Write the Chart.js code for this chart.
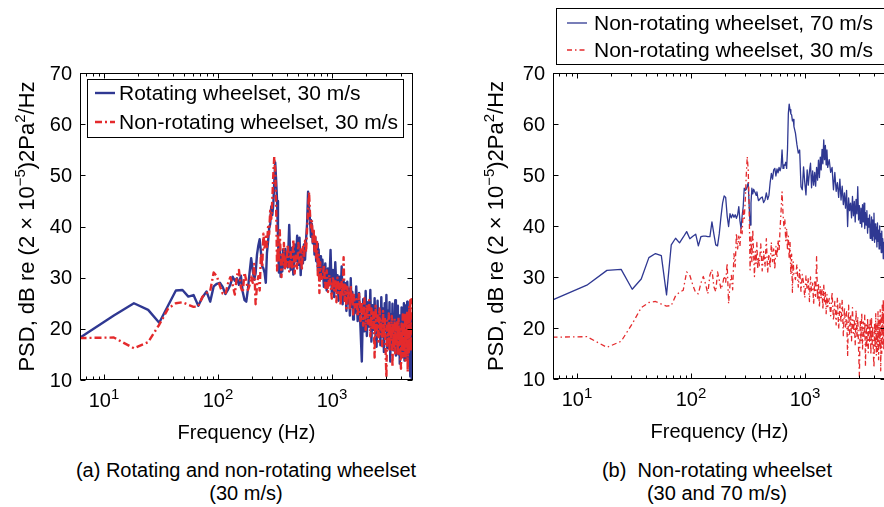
<!DOCTYPE html>
<html>
<head>
<meta charset="utf-8">
<title>Wheelset PSD</title>
<script src="https://cdn.jsdelivr.net/npm/chart.js@4.4.1/dist/chart.umd.min.js"></script>
<style>
  html, body { margin: 0; padding: 0; background: #fff; overflow: hidden; }
  body { width: 884px; height: 507px; position: relative; font-family: "Liberation Sans", Arial, Helvetica, sans-serif; }
  canvas { position: absolute; top: 0; }
  #chartA { left: 0; }
  #chartB { left: 440px; }
  .caption { position: absolute; width: 440px; text-align: center; font-size: 20px; line-height: 23px; color: #000; }
</style>
</head>
<body>
<canvas id="chartA" width="440" height="450"></canvas>
<canvas id="chartB" width="450" height="450"></canvas>
<div class="caption" style="left:26px; top:459px">(a) Rotating and non-rotating wheelset<br>(30 m/s)</div>
<div class="caption" style="left:497px; top:459px">(b)&nbsp; Non-rotating wheelset<br>(30 and 70 m/s)</div>
<script>
// ── Data ────────────────────────────────────────────────────────────────
// Spectrum bins (Hz); the 6.1 Hz bins are thinned out above 400 Hz
const freqHz = [
  6.1, 12.2, 18.3, 24.4, 30.5, 36.6, 42.7, 48.8, 54.9, 61.0,
  67.1, 73.2, 79.3, 85.4, 91.6, 97.7, 103.8, 109.9, 116.0, 122.1,
  128.2, 134.3, 140.4, 146.5, 152.6, 158.7, 164.8, 170.9, 177.0, 183.1,
  189.2, 195.3, 201.4, 207.5, 213.6, 219.7, 225.8, 231.9, 238.0, 244.1,
  250.2, 256.3, 262.5, 268.6, 274.7, 280.8, 286.9, 293.0, 299.1, 305.2,
  311.3, 317.4, 323.5, 329.6, 335.7, 341.8, 347.9, 354.0, 360.1, 366.2,
  372.3, 378.4, 384.5, 390.6, 396.7,
  408.9, 421.1, 433.3, 445.5, 457.8, 470.0, 482.2, 494.4, 506.6, 518.8,
  531.0, 543.2, 555.4, 567.6, 579.8, 592.0, 604.2, 616.5, 628.7, 640.9,
  653.1, 665.3, 677.5, 689.7, 701.9, 714.1, 726.3, 738.5, 750.7, 762.9,
  775.1, 787.4, 799.6,
  824.0, 848.4, 872.8, 897.2, 921.6, 946.0, 970.5, 994.9, 1019, 1044,
  1068, 1093, 1117, 1141, 1166, 1190, 1215, 1239, 1263, 1288,
  1312, 1337, 1361, 1385, 1410, 1434, 1459, 1483, 1508, 1532,
  1556, 1581,
  1630, 1678, 1727, 1776, 1825, 1874, 1923, 1972, 2021, 2069,
  2118, 2167, 2216, 2265, 2314, 2363, 2411, 2460, 2509, 2558,
  2607, 2656, 2705, 2754, 2802, 2851, 2900, 2949, 2998, 3047,
  3096, 3145, 3193, 3242, 3291, 3340, 3389, 3438, 3487, 3536,
  3584, 3633, 3682, 3731, 3780, 3829, 3878, 3927, 3975, 4024,
  4073, 4122, 4171, 4220, 4269, 4318, 4366, 4415, 4464, 4513,
  4562, 4611, 4660, 4709, 4757, 4806, 4855, 4904, 4953, 5002
];

// Rotating wheelset, 30 m/s (dB)
const psdRotating30 = [
  18.2, 22.6, 25.0, 23.7, 21.2, 24.6, 27.5, 27.6, 26.3, 26.6,
  24.5, 26.2, 27.3, 25.3, 28.3, 28.8, 29.0, 28.2, 26.8, 27.6,
  28.6, 30.2, 29.4, 29.9, 28.6, 30.4, 27.2, 25.6, 25.3, 27.8,
  31.0, 33.8, 31.5, 29.6, 30.8, 34.5, 36.3, 37.5, 35.0, 32.2,
  31.8, 30.9, 29.0, 34.8, 37.0, 39.6, 40.5, 43.9, 42.2, 44.2,
  48.5, 52.5, 49.0, 45.0, 38.0, 31.0, 36.5, 30.2, 34.0, 31.2,
  35.5, 33.0, 32.0, 35.6, 33.5,
  32.0, 40.3, 31.5, 35.8, 30.6, 36.5, 33.2, 38.2, 32.5, 37.8,
  30.5, 35.2, 32.8, 36.5, 33.5, 37.5, 40.5, 46.8, 43.5, 41.3,
  38.0, 40.5, 36.7, 39.0, 34.5, 37.8, 33.2, 36.6, 31.5, 35.5,
  30.8, 34.2, 29.8,
  33.5, 28.2, 32.8, 27.5, 31.8, 28.6, 35.4, 27.0, 31.5, 26.2,
  33.0, 27.8, 30.5, 25.5, 30.2, 26.8, 32.2, 24.8, 29.5, 25.8,
  28.9, 23.5, 29.2, 25.0, 27.8, 22.6, 29.9, 24.3, 27.2, 21.8,
  26.5, 23.0,
  28.3, 21.5, 27.0, 20.2, 13.6, 25.8, 19.5, 27.4, 18.6, 25.2,
  20.4, 27.6, 17.5, 24.6, 19.8, 26.0, 18.0, 16.5, 25.5, 19.2,
  23.8, 16.8, 26.2, 18.5, 24.0, 15.5, 25.0, 19.6, 26.6, 16.2,
  23.5, 18.8, 25.2, 13.6, 22.8, 17.2, 24.9, 15.8, 22.0, 18.0,
  25.6, 14.8, 21.4, 17.5, 24.5, 15.0, 22.6, 13.2, 21.0, 17.8,
  24.2, 14.5, 22.0, 16.4, 25.0, 13.8, 21.2, 17.0, 24.6, 14.2,
  25.3, 16.0, 22.5, 12.8, 24.0, 15.2, 10.7, 22.4, 14.0, 10.2
];

// Non-rotating wheelset, 30 m/s (dB) - shown in both panels
const psdNonRotating30 = [
  18.2, 18.3, 16.2, 17.4, 20.8, 24.0, 25.0, 25.2, 24.7, 24.3,
  24.4, 26.3, 27.0, 27.4, 31.0, 30.3, 28.4, 26.9, 26.7, 28.8,
  30.1, 28.6, 26.7, 30.4, 31.5, 28.1, 27.1, 31.0, 29.4, 27.6,
  28.5, 30.2, 29.0, 32.7, 24.8, 28.5, 30.3, 27.5, 34.6, 32.0,
  38.6, 35.5, 38.0, 36.0, 39.9, 38.5, 43.1, 41.5, 45.0, 50.0,
  53.6, 51.0, 44.0, 31.4, 37.9, 33.0, 39.3, 34.5, 30.1, 35.0,
  32.6, 36.8, 31.5, 34.0, 32.2,
  36.5, 31.2, 35.0, 32.0, 37.5, 30.8, 34.5, 31.8, 36.8, 33.0,
  35.5, 31.5, 36.0, 33.8, 37.2, 35.0, 39.5, 43.0, 46.7, 42.5,
  39.8, 41.2, 37.0, 39.5, 35.2, 38.0, 33.5, 37.0, 30.5, 34.5,
  27.0, 33.0, 30.5,
  29.5, 32.5, 28.0, 31.4, 27.2, 30.5, 28.8, 25.9, 30.2, 27.5,
  29.8, 25.2, 30.0, 27.0, 28.8, 24.6, 29.4, 26.2, 34.0, 25.5,
  28.5, 24.0, 28.2, 25.8, 27.5, 23.6, 28.6, 24.8, 27.0, 22.8,
  26.6, 24.2,
  25.8, 22.4, 27.0, 21.5, 25.2, 20.6, 26.0, 19.8, 24.8, 21.0,
  25.6, 18.5, 24.0, 20.2, 23.2, 14.4, 24.5, 18.8, 22.6, 17.5,
  24.0, 19.0, 21.8, 16.6, 23.5, 18.2, 22.2, 15.8, 10.5, 21.6,
  17.4, 23.0, 15.6, 21.2, 18.0, 22.5, 12.5, 20.6, 16.2, 22.0,
  15.2, 20.8, 17.4, 21.6, 14.8, 22.2, 16.8, 20.4, 15.0, 12.2,
  21.0, 16.0, 22.8, 14.6, 20.5, 15.4, 23.2, 13.8, 21.5, 16.5,
  23.6, 11.6, 22.0, 15.0, 24.5, 16.8, 25.6, 15.6, 24.2, 26.0
];

// Non-rotating wheelset, 70 m/s (dB)
const psdNonRotating70 = [
  25.5, 28.4, 31.3, 31.5, 27.6, 29.6, 33.8, 34.6, 34.2, 26.5,
  36.3, 37.6, 36.7, 37.8, 38.9, 37.5, 38.0, 38.4, 36.1, 37.9,
  38.0, 38.0, 37.9, 37.9, 40.8, 38.4, 36.3, 36.1, 38.5, 41.8,
  44.5, 45.9, 45.6, 42.0, 39.9, 42.4, 41.6, 42.3, 41.7, 42.2,
  41.5, 42.2, 43.8, 41.0, 39.5, 42.0, 43.8, 47.4, 47.0, 47.2,
  47.8, 48.5, 44.0, 40.2, 44.5, 47.4, 46.3, 47.2, 46.8, 46.5,
  46.0, 46.7, 45.7, 45.0, 45.1,
  45.5, 45.7, 44.6, 45.1, 46.5, 45.2, 46.0, 48.5, 50.3, 49.2,
  51.0, 51.3, 49.8, 51.2, 50.4, 51.5, 50.8, 51.6, 54.9, 51.3,
  52.0, 51.9, 52.5, 51.3, 55.0, 62.1, 63.9, 62.8, 62.0, 61.8,
  60.6, 60.9, 59.5,
  58.2, 56.0, 54.3, 54.9, 47.7, 47.1, 51.6, 48.5, 46.1, 51.0,
  48.0, 50.6, 52.3, 47.5, 50.8, 48.0, 50.5, 47.8, 51.5, 49.0,
  52.9, 49.5, 53.5, 51.0, 55.0, 52.2, 56.9, 53.0, 55.8, 52.0,
  54.9, 51.5,
  53.0, 50.5, 51.5, 47.1, 50.5, 46.8, 48.5, 45.6, 49.2, 45.1,
  47.8, 44.2, 46.5, 43.5, 47.0, 39.9, 45.5, 43.0, 44.5, 41.6,
  45.8, 42.0, 44.8, 40.8, 45.2, 42.4, 47.7, 41.2, 44.0, 40.5,
  43.5, 39.8, 44.2, 40.8, 44.5, 39.5, 42.6, 40.2, 43.0, 38.6,
  41.5, 39.8, 42.2, 37.6, 39.2, 41.8, 37.2, 41.2, 38.0, 42.5,
  36.8, 40.4, 37.5, 39.8, 35.9, 40.6, 37.0, 39.2, 35.5, 40.0,
  36.2, 38.5, 34.8, 39.0, 35.0, 37.5, 33.6, 36.8, 35.3, 32.7
];

const yTickValues = [10, 20, 30, 40, 50, 60, 70];
const xDecades = [10, 100, 1000];
const xDecadeExp = ['1', '2', '3'];
// [text, superscript?]
const yAxisTitle = [['PSD, dB re (2 \u00d7 10', false], ['\u22125', true], [')2Pa', false], ['2', true], ['/Hz', false]];
const xAxisTitle = 'Frequency (Hz)';

const X_MIN = 6.16, X_MAX = 5130;
const Y_MIN = 10, Y_MAX = 70;

// ── Styling ─────────────────────────────────────────────────────────────
const FONT = '"Liberation Sans", Arial, Helvetica, sans-serif';
const BLUE = '#2f3892';
const RED = '#e42a2c';

const toPoints = values => freqHz.map((f, i) => ({ x: f, y: values[i] }));

// draws a run of text pieces, some raised as superscripts
function drawRich(ctx, parts, x, y, size, supSize, align) {
  let w = 0;
  parts.forEach(([t, sup]) => {
    ctx.font = `${sup ? supSize : size}px ${FONT}`;
    w += ctx.measureText(t).width;
  });
  let cx = align === 'center' ? x - w / 2 : align === 'right' ? x - w : x;
  ctx.textAlign = 'left';
  ctx.textBaseline = 'alphabetic';
  parts.forEach(([t, sup]) => {
    ctx.font = `${sup ? supSize : size}px ${FONT}`;
    ctx.fillText(t, cx, sup ? y - size * 0.42 : y);
    cx += ctx.measureText(t).width;
  });
}

// ── MATLAB-style box, inward ticks, labels and legend ───────────────────
const matlabAxes = {
  id: 'matlabAxes',
  afterDraw(chart, args, o) {
    const { ctx, chartArea: a } = chart;
    const xs = chart.scales.x, ys = chart.scales.y;
    const L = Math.round(a.left) + 0.5, R = Math.round(a.right) - 0.5;
    const T = Math.round(a.top) + 0.5, B = Math.round(a.bottom) - 0.5;

    ctx.save();
    ctx.strokeStyle = '#000';
    ctx.fillStyle = '#000';
    ctx.lineWidth = 1;
    ctx.beginPath();
    yTickValues.forEach(v => {
      const py = Math.round(ys.getPixelForValue(v)) + 0.5;
      ctx.moveTo(L, py); ctx.lineTo(L + 5, py);
      ctx.moveTo(R, py); ctx.lineTo(R - 5, py);
    });
    for (let d = 1; d <= 1000; d *= 10) {
      for (let m = 1; m <= 9; m++) {
        const f = d * m;
        if (f < X_MIN || f > X_MAX) continue;
        const px = Math.round(xs.getPixelForValue(f)) + 0.5;
        const len = m === 1 ? 5 : 3;
        ctx.moveTo(px, B); ctx.lineTo(px, B - len);
        ctx.moveTo(px, T); ctx.lineTo(px, T + len);
      }
    }
    ctx.stroke();
    ctx.strokeRect(L, T, R - L, B - T);

    // tick labels
    ctx.font = `20px ${FONT}`;
    ctx.textAlign = 'right';
    ctx.textBaseline = 'middle';
    yTickValues.forEach(v => ctx.fillText(String(v), a.left - 8, ys.getPixelForValue(v) + 1));
    xDecades.forEach((f, i) => {
      drawRich(ctx, [['10', false], [xDecadeExp[i], true]], xs.getPixelForValue(f), a.bottom + 27, 20, 15, 'center');
    });

    // axis titles
    drawRich(ctx, [[xAxisTitle, false]], (a.left + a.right) / 2, a.bottom + 59, 20, 14, 'center');
    ctx.save();
    ctx.translate(o.yTitleX, (a.top + a.bottom) / 2);
    ctx.rotate(-Math.PI / 2);
    drawRich(ctx, yAxisTitle, 0, 0, 22, 15, 'center');
    ctx.restore();

    // legend
    const lg = o.legend;
    ctx.fillStyle = '#fff';
    ctx.fillRect(lg.x, lg.y, lg.w, lg.h);
    ctx.strokeStyle = '#000';
    ctx.lineWidth = 1;
    ctx.strokeRect(lg.x + 0.5, lg.y + 0.5, lg.w, lg.h);
    lg.rows.forEach((row, i) => {
      const ds = chart.data.datasets[lg.order[i]];
      ctx.strokeStyle = ds.borderColor;
      ctx.lineWidth = ds.borderWidth;
      ctx.setLineDash(ds.borderDash || []);
      ctx.beginPath();
      ctx.moveTo(lg.sx1, row);
      ctx.lineTo(lg.sx2, row);
      ctx.stroke();
      ctx.setLineDash([]);
      ctx.fillStyle = '#000';
      ctx.font = `21px ${FONT}`;
      ctx.textAlign = 'left';
      ctx.textBaseline = 'middle';
      ctx.fillText(ds.label, lg.tx, row + 1);
    });
    ctx.restore();
  }
};

function series(label, values, color, width, dash, order) {
  return {
    label, data: toPoints(values),
    borderColor: color, borderWidth: width, borderDash: dash,
    borderJoinStyle: 'round', pointRadius: 0, fill: false, tension: 0, order
  };
}

function makeChart(id, datasets, pad, yWidth, xHeight, axesOpts) {
  return new Chart(document.getElementById(id), {
    type: 'line',
    data: { datasets },
    options: {
      responsive: false,
      animation: false,
      events: [],
      layout: { padding: pad },
      plugins: { legend: { display: false }, tooltip: { enabled: false }, matlabAxes: axesOpts },
      scales: {
        x: {
          type: 'logarithmic', min: X_MIN, max: X_MAX,
          ticks: { display: false }, grid: { display: false }, border: { display: false },
          afterFit: s => { s.height = xHeight; }
        },
        y: {
          type: 'linear', min: Y_MIN, max: Y_MAX,
          ticks: { display: false }, grid: { display: false }, border: { display: false },
          afterFit: s => { s.width = yWidth; }
        }
      }
    },
    plugins: [matlabAxes]
  });
}

// (a) rotating vs non-rotating at 30 m/s
makeChart('chartA', [
  series('Rotating wheelset, 30 m/s', psdRotating30, BLUE, 2.4, [], 1),
  series('Non-rotating wheelset, 30 m/s', psdNonRotating30, RED, 2.4, [7, 3, 2, 3], 0)
], { top: 73, right: 27, left: 0, bottom: 0 }, 80, 70, {
  yTitleX: 34,
  legend: { x: 87, y: 79, w: 316, h: 58, rows: [93, 122], order: [0, 1], sx1: 95, sx2: 115, tx: 119 }
});

// (b) non-rotating at 70 and 30 m/s
makeChart('chartB', [
  series('Non-rotating wheelset, 70 m/s', psdNonRotating70, BLUE, 1.3, [], 1),
  series('Non-rotating wheelset, 30 m/s', psdNonRotating30, RED, 1.3, [5, 3, 1.5, 3], 0)
], { top: 73, right: 4, left: 0, bottom: 0 }, 113, 71, {
  yTitleX: 63,
  legend: { x: 116, y: 8, w: 340, h: 56, rows: [23, 50], order: [0, 1], sx1: 127, sx2: 147, tx: 154 }
});
</script>
</body>
</html>
